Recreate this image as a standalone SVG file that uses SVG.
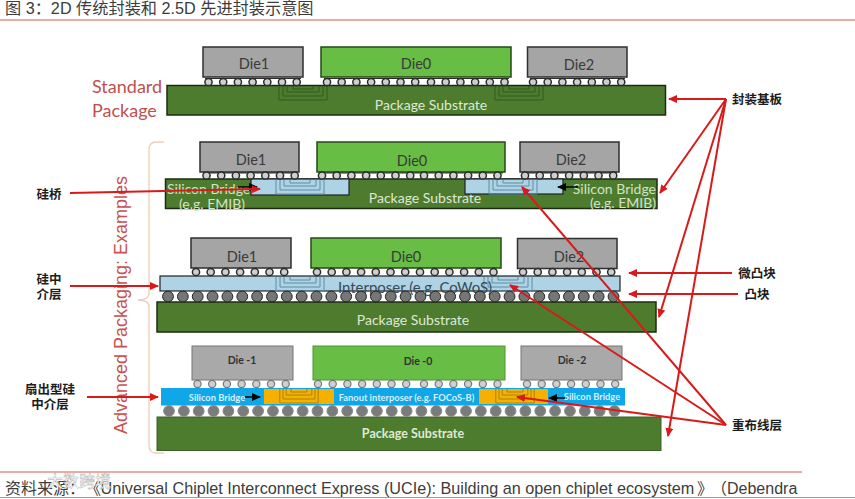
<svg xmlns="http://www.w3.org/2000/svg" xmlns:xlink="http://www.w3.org/1999/xlink" width="855" height="499" viewBox="0 0 855 499">
<style>
text{font-family:"Lato","Liberation Sans","Noto Sans CJK SC",sans-serif}
.cap{font-family:"Liberation Sans","Noto Sans CJK SC",sans-serif;fill:#3c3c3c}
.die{fill:#a5a5a5;stroke:#2f2f2f;stroke-width:1.5}
.dieg{fill:#68bd45;stroke:#26481a;stroke-width:1.5}
.sub{fill:#4e7c2e;stroke:#1d2b14;stroke-width:1.5}
.dt{font-size:14.500px;fill:#3a3a3a;text-anchor:middle}
.st{font-size:14px;fill:#dfe8d6;text-anchor:middle}
.sb{font-size:14px;fill:#d3e2c6}
.lb{fill:#add3e5;stroke:#222;stroke-width:1.2}
.small{font-size:9.300px;font-weight:700;text-anchor:middle}
.dl{font-size:10.500px;font-weight:700;text-anchor:middle;fill:#333}
.cn{font-family:"Noto Sans CJK SC",sans-serif;font-size:12.500px;font-weight:700;fill:#1c1c1c;text-anchor:middle}
.ub{fill:#cfcfcf;stroke:#2c2c2c;stroke-width:1.5}
.ub4{fill:#cfcfcf;stroke:#777;stroke-width:1.2}
.col{stroke:#2c2c2c;stroke-width:1.2;fill:none}
.b{fill:#767676;stroke:#222;stroke-width:1}
.b4{fill:#7b7b7b;stroke:#8a8a8a;stroke-width:1}
.u{fill:none;stroke-width:1}
.r{stroke:#d91a1a;stroke-width:2;fill:none;marker-end:url(#ra)}
.k{stroke:#000;stroke-width:1.5;fill:none;marker-end:url(#ka)}
</style>
<defs>
<marker id="ra" markerWidth="9" markerHeight="8" refX="8" refY="4" orient="auto" markerUnits="userSpaceOnUse"><path d="M0,0L9,4L0,8z" fill="#d91a1a"/></marker>
<marker id="ka" markerWidth="9" markerHeight="8" refX="8" refY="4" orient="auto" markerUnits="userSpaceOnUse"><path d="M0,0L9,4L0,8z" fill="#000"/></marker>
<g id="u3"><path class="u" d="M0,0V14H48V0M4,0V10H44V0M8,0V6H40V0M14,0V3H34V0"/></g>
<g id="m"><circle r="3.6"/><circle cx="14.7" r="3.6"/><circle cx="29.4" r="3.6"/><circle cx="44.1" r="3.6"/><circle cx="58.8" r="3.6"/><circle cx="73.5" r="3.6"/><circle cx="88.2" r="3.6"/></g>
<g id="m6"><circle r="3.6"/><circle cx="14.7" r="3.6"/><circle cx="29.4" r="3.6"/><circle cx="44.1" r="3.6"/><circle cx="58.8" r="3.6"/><circle cx="73.5" r="3.6"/></g>
<g id="b5"><circle r="5.4"/><circle cx="14.85" r="5.4"/><circle cx="29.7" r="5.4"/><circle cx="44.55" r="5.4"/><circle cx="59.4" r="5.4"/></g>
<g id="b15"><use href="#b5"/><use href="#b5" x="74.25"/><use href="#b5" x="148.5"/></g>
<g id="b31"><use href="#b15"/><use href="#b15" x="222.75"/><circle cx="445.5" r="5.4"/></g>
</defs>
<rect width="855" height="499" fill="#fff"/>

<g id="title"><text class="cap" x="5" y="13.500" font-size="16.200">图 3：2D 传统封装和 2.5D 先进封装示意图</text><path d="M0,20H855" stroke="#d05a52" stroke-width="1"/></g>

<g id="standard-package-label" font-size="18"><text x="92" y="93" fill="#c0504d">Standard</text><text x="92" y="117" fill="#c0504d">Package</text></g>

<g id="advanced-bracket">
<path d="M164,142H156Q149,142 149,150V293Q149,300 138,300Q149,300 149,307V445Q149,453 156,453H164" fill="none" stroke="#eecdb6" stroke-width="1.3"/>
<text transform="translate(127,434) rotate(-90)" font-size="19" textLength="258" lengthAdjust="spacingAndGlyphs" style="font-family:'Liberation Sans',sans-serif" fill="#c9524f">Advanced Packaging: Examples</text>
</g>

<g id="row1-standard">
<rect class="sub" x="167" y="85.500" width="498.500" height="29.500"/>
<use href="#u3" x="279" y="86" stroke="#2e5a1e"/><use href="#u3" x="495" y="86" stroke="#2e5a1e"/>
<text class="st" x="431" y="110">Package Substrate</text>
<path class="col" d="M205,78.500H301M324,78.500H509M530,78.500H625"/>
<rect class="die" x="203" y="47" width="100" height="30"/><text class="dt" x="254" y="69">Die1</text>
<rect class="dieg" x="321" y="47" width="190" height="30"/><text class="dt" x="416" y="69">Die0</text>
<rect class="die" x="527.500" y="47" width="99.500" height="30"/><text class="dt" x="579" y="70">Die2</text>
<g class="ub"><use href="#m" x="208.500" y="82"/><use href="#m" x="327" y="82"/><use href="#m6" x="431" y="82"/><use href="#m" x="533" y="82"/></g>
</g>

<g id="row2-emib">
<rect class="sub" x="165.500" y="179" width="491.500" height="29.500"/>
<text class="st" x="425" y="203">Package Substrate</text>
<text class="sb" x="167" y="194">Silicon Bridge</text><text class="sb" x="179" y="208.500">(e.g. EMIB)</text>
<text class="sb" x="656" y="194" text-anchor="end">Silicon Bridge</text><text class="sb" x="656" y="208" text-anchor="end">(e.g. EMIB)</text>
<rect class="lb" x="251" y="179" width="98" height="16"/><rect class="lb" x="465" y="179" width="98" height="15"/>
<use href="#u3" x="276" y="180" stroke="#5b8ea6"/><use href="#u3" x="489" y="180" stroke="#5b8ea6"/>
<path class="col" d="M203,172.800H297M319,172.800H503M522,172.800H617"/>
<rect class="die" x="200" y="142" width="99" height="30"/><text class="dt" x="251" y="165">Die1</text>
<rect class="dieg" x="317" y="142" width="188" height="30"/><text class="dt" x="412" y="166">Die0</text>
<rect class="die" x="520" y="142" width="99" height="30"/><text class="dt" x="571" y="165">Die2</text>
<g class="ub"><use href="#m" x="206.500" y="175.500"/><use href="#m" x="322" y="175.500"/><use href="#m6" x="424" y="175.500"/><use href="#m" x="525" y="175.500"/></g>
</g>

<g id="row3-cowos">
<rect class="sub" x="157" y="302" width="499" height="30"/>
<text class="st" x="413" y="325">Package Substrate</text>
<rect class="lb" x="160" y="276" width="460" height="15"/>
<use href="#u3" x="276" y="277" stroke="#5b8ea6"/><use href="#u3" x="484" y="277" stroke="#5b8ea6"/>
<text x="415" y="293" font-size="15" fill="#3a4a55" text-anchor="middle">Interposer (e.g. CoWoS)</text>
<g class="b"><use href="#b31" x="168" y="296.500"/></g>
<rect class="die" x="191" y="238" width="100" height="30"/><text class="dt" x="242" y="262">Die1</text>
<rect class="dieg" x="311" y="238" width="190" height="30"/><text class="dt" x="406" y="262">Die0</text>
<rect class="die" x="517.500" y="238.500" width="99.500" height="30"/><text class="dt" x="569" y="262">Die2</text>
<g class="ub"><use href="#m" x="196" y="272"/><use href="#m" x="317" y="272"/><use href="#m6" x="420" y="272"/><use href="#m" x="523" y="272"/></g>
</g>

<g id="row4-focos">
<rect x="157" y="417" width="504" height="33.500" fill="#4e7c2e" stroke="#3c5f26"/>
<text x="413" y="438" font-size="12.500" font-weight="700" text-anchor="middle" fill="#dfe8d6">Package Substrate</text>
<rect x="161" y="388" width="464" height="17.500" fill="#0fa7e8"/>
<rect x="264" y="389" width="70" height="15" fill="#f6b100"/><rect x="479" y="389" width="69" height="15" fill="#f6b100"/>
<use href="#u3" x="281" y="389" stroke="#a07d10" transform="translate(55,0) scale(.8,1)"/><use href="#u3" x="496" y="389" stroke="#a07d10" transform="translate(99,0) scale(.8,1)"/>
<text class="small" x="217" y="401" fill="#d8f0fb">Silicon Bridge</text>
<text class="small" x="406.500" y="401" fill="#d8f0fb">Fanout interposer (e.g. FOCoS-B)</text>
<text class="small" x="592" y="400" fill="#d8f0fb">Silicon Bridge</text>
<g class="b4"><use href="#b31" x="169" y="411"/></g>
<g fill="#a9a9a9" stroke="#777"><rect x="192" y="346" width="101" height="34"/><rect x="521" y="346" width="101" height="34"/></g>
<rect x="313" y="346" width="192" height="34" fill="#68bd45" stroke="#4f9435"/>
<text class="dl" x="242" y="364">Die -1</text><text class="dl" x="418" y="365">Die -0</text><text class="dl" x="572" y="364">Die -2</text>
<g class="ub4"><use href="#m" x="197.500" y="384"/><use href="#m" x="318" y="384"/><use href="#m6" x="424" y="384"/><use href="#m" x="527" y="384"/></g>
</g>

<g id="labels">
<text class="cn" x="757" y="104">封装基板</text>
<text class="cn" x="757" y="278">微凸块</text>
<text class="cn" x="757" y="299">凸块</text>
<text class="cn" x="757" y="430">重布线层</text>
<text class="cn" x="49" y="199">硅桥</text>
<text class="cn" x="49" y="284">硅中</text><text class="cn" x="49" y="299">介层</text>
<text class="cn" x="50" y="394">扇出型硅</text><text class="cn" x="50" y="409">中介层</text>
</g>

<g id="connectors">
<path class="k" d="M238,187H257"/><path class="k" d="M578,187H558"/><path class="k" d="M245,397H260"/><path class="k" d="M565,398H549"/>
<path class="r" d="M726,99H669"/><path class="r" d="M726,99L660,193"/><path class="r" d="M726,99L659,317"/><path class="r" d="M726,99L668,436"/>
<path class="r" d="M70,193L260,189"/><path class="r" d="M70,286H158"/><path class="r" d="M87,397H158"/>
<path class="r" d="M732,273H629"/><path class="r" d="M738,294H629"/>
<path class="r" d="M726,425L522,187"/><path class="r" d="M726,425L510,285"/><path class="r" d="M726,425L517,397"/>
</g>

<g id="footer">
<path d="M0,472H802" stroke="#d05a52" stroke-width="1"/>
<text class="cap" y="494" font-size="16"><tspan x="5">资料来源：</tspan><tspan x="85">《</tspan><tspan x="100.500" font-size="16.200">Universal Chiplet Interconnect Express (UCIe): Building an open chiplet ecosystem</tspan><tspan x="697">》</tspan><tspan x="711">（</tspan><tspan x="727">Debendra</tspan></text>
<text x="47" y="487" font-size="16" style="font-family:'Noto Sans CJK SC',sans-serif" fill="#fff" stroke="#aaa" stroke-width=".4">大数跨境</text>
<path d="M0,497.500H855" stroke="#9a9a9a" stroke-width="1"/>
</g>
</svg>
